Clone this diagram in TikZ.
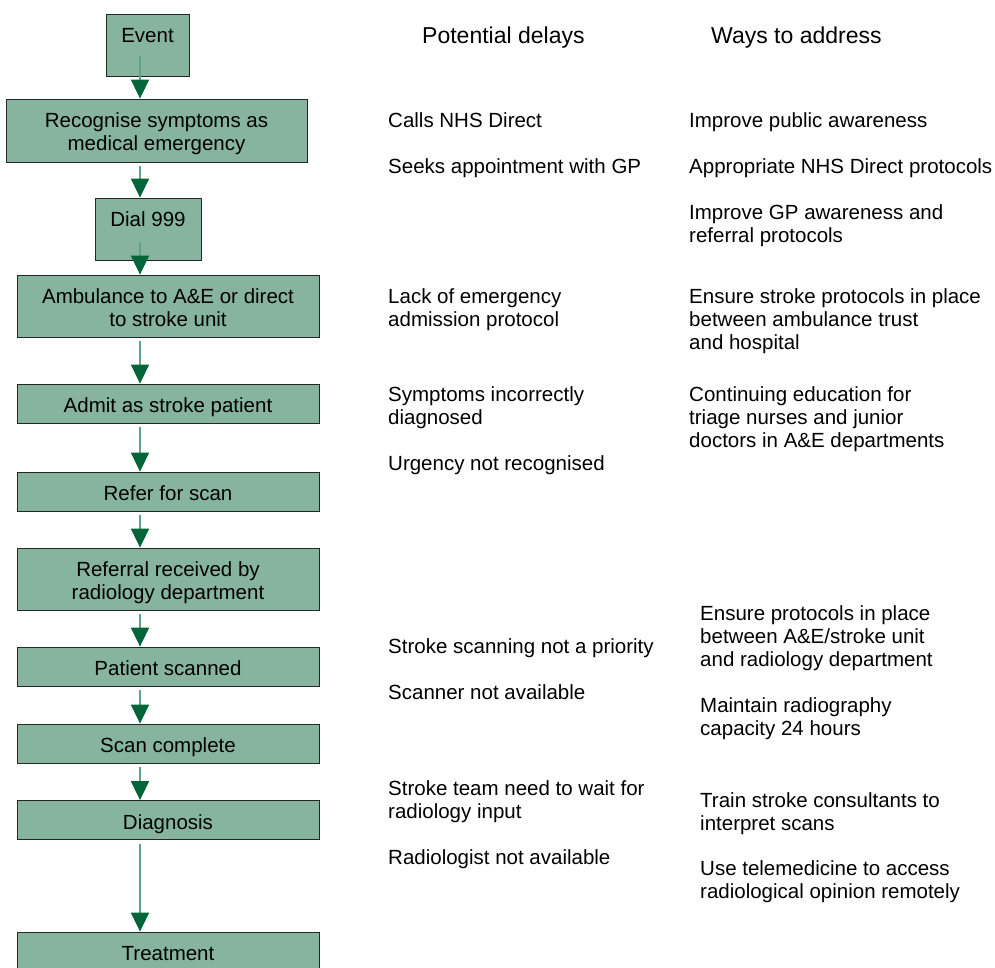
\documentclass[tikz,border=0pt]{standalone}
\usepackage{fontspec}
\setmainfont{Liberation Sans}
\usetikzlibrary{arrows.meta}
\definecolor{boxgreen}{HTML}{86B49E}
\definecolor{shaftgreen}{HTML}{62A383}
\definecolor{headgreen}{HTML}{00663A}

\begin{document}
\begin{tikzpicture}[x=1pt, y=-1pt,
  font=\fontsize{20.5}{23}\selectfont,
  box/.style={draw=black!85, line width=0.8pt, fill=boxgreen, align=center,
    inner sep=0pt, minimum height=39pt, minimum width=302pt,
    text height=19pt, text depth=1pt},
  tallbox/.style={box, text height=21pt, text depth=27pt, inner ysep=7pt, minimum height=62pt},
  twobox/.style={box, text height=44pt, text depth=4pt, inner ysep=7pt, minimum height=62pt},
  note/.style={anchor=west, align=left, inner sep=0pt},
  head/.style={anchor=west, inner sep=0pt, font=\fontsize{23}{27}\selectfont},
  flow/.style={draw=shaftgreen, line width=1.6pt,
    -{Triangle[width=18pt, length=19pt, color=headgreen]}}]

  \clip (0,0) rectangle (995,967);

  % cadena de pasos
  \node[tallbox, minimum width=83pt]  (ev)    at (147.5,45)  {Event};
  \node[twobox, minimum width=301pt, minimum height=63pt] (rec) at (156.5,130.5)
    {Recognise symptoms as\\medical emergency};
  \node[tallbox, minimum width=106pt] (dial)  at (148,229)   {Dial 999};
  \node[twobox]                       (amb)   at (168,306)
    {Ambulance to A\&E or direct\\to stroke unit};
  \node[box]                          (adm)   at (168,403.5) {Admit as stroke patient};
  \node[box]                          (ref)   at (168,491.5) {Refer for scan};
  \node[twobox]                       (rad)   at (168,579)
    {Referral received by\\radiology department};
  \node[box]                          (scan)  at (168,666.5) {Patient scanned};
  \node[box]                          (done)  at (168,743.5) {Scan complete};
  \node[box]                          (diag)  at (168,820)   {Diagnosis};
  \node[box]                          (treat) at (168,951.5) {Treatment};

  % flechas
  \coordinate (spine) at (140,0);
  \draw[flow] (ev.south -| spine) ++(0,-20) -- (rec.north -| spine);
  \draw[flow] (rec.south -| spine) ++(0,4) -- (dial.north -| spine);
  \draw[flow] (dial.south -| spine) ++(0,-18) -- (amb.north -| spine);
  \draw[flow] (amb.south -| spine) ++(0,4) -- (adm.north -| spine);
  \draw[flow] (adm.south -| spine) ++(0,4) -- (ref.north -| spine);
  \draw[flow] (ref.south -| spine) ++(0,4) -- (rad.north -| spine);
  \draw[flow] (rad.south -| spine) ++(0,4) -- (scan.north -| spine);
  \draw[flow] (scan.south -| spine) ++(0,4) -- (done.north -| spine);
  \draw[flow] (done.south -| spine) ++(0,4) -- (diag.north -| spine);
  \draw[flow] (diag.south -| spine) ++(0,4) -- (treat.north -| spine);

  % encabezados
  \node[head] (hdelay) at (422,38) {Potential delays};
  \node[head] (hways)  at (711,38) {Ways to address};

  % demoras posibles
  \node[note] (d1) at (388,120)   {Calls NHS Direct};
  \node[note] (d2) at (388,168)   {Seeks appointment with GP};
  \node[note] (d3) at (388,309.5) {Lack of emergency\\admission protocol};
  \node[note] (d4) at (388,407.5) {Symptoms incorrectly\\diagnosed};
  \node[note] (d5) at (388,465)   {Urgency not recognised};
  \node[note] (d6) at (388,648)   {Stroke scanning not a priority};
  \node[note] (d7) at (388,692)   {Scanner not available};
  \node[note] (d8) at (388,801.5) {Stroke team need to wait for\\radiology input};
  \node[note] (d9) at (388,859)   {Radiologist not available};

  % medidas
  \node[note] (w1) at (689,122)   {Improve public awareness};
  \node[note] (w2) at (689,168)   {Appropriate NHS Direct protocols};
  \node[note] (w3) at (689,226)   {Improve GP awareness and\\referral protocols};
  \node[note] (w4) at (689,321)
    {Ensure stroke protocols in place\\between ambulance trust\\and hospital};
  \node[note] (w5) at (689,419)
    {Continuing education for\\triage nurses and junior\\doctors in A\&E departments};
  \node[note] (w6) at (700,638)
    {Ensure protocols in place\\between A\&E/stroke unit\\and radiology department};
  \node[note] (w7) at (700,718.5) {Maintain radiography\\capacity 24 hours};
  \node[note] (w8) at (700,813.5) {Train stroke consultants to\\interpret scans};
  \node[note] (w9) at (700,881.5) {Use telemedicine to access\\radiological opinion remotely};
\end{tikzpicture}
\end{document}
